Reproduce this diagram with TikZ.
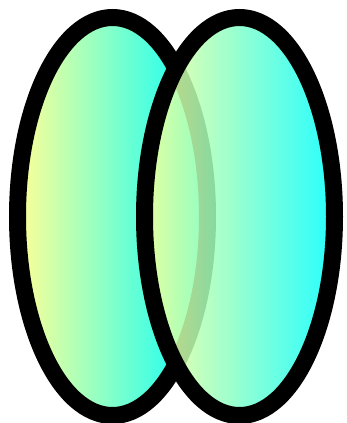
\documentclass[tikz,border=0pt]{standalone}
\definecolor{paleyellow}{RGB}{255,255,150}
\definecolor{brightcyan}{RGB}{0,255,255}
\tikzset{
  lens/.style={draw=black, line width=17pt, left color=paleyellow, right color=brightcyan},
}
\begin{document}
\begin{tikzpicture}[x=1pt,y=-1pt]
\useasboundingbox (0,0) rectangle (346,423);
\path[lens] (112.5,216.5) ellipse [x radius=95, y radius=199];
\path[lens, fill opacity=0.85] (239.5,216.5) ellipse [x radius=95, y radius=199];
\end{tikzpicture}
\end{document}
